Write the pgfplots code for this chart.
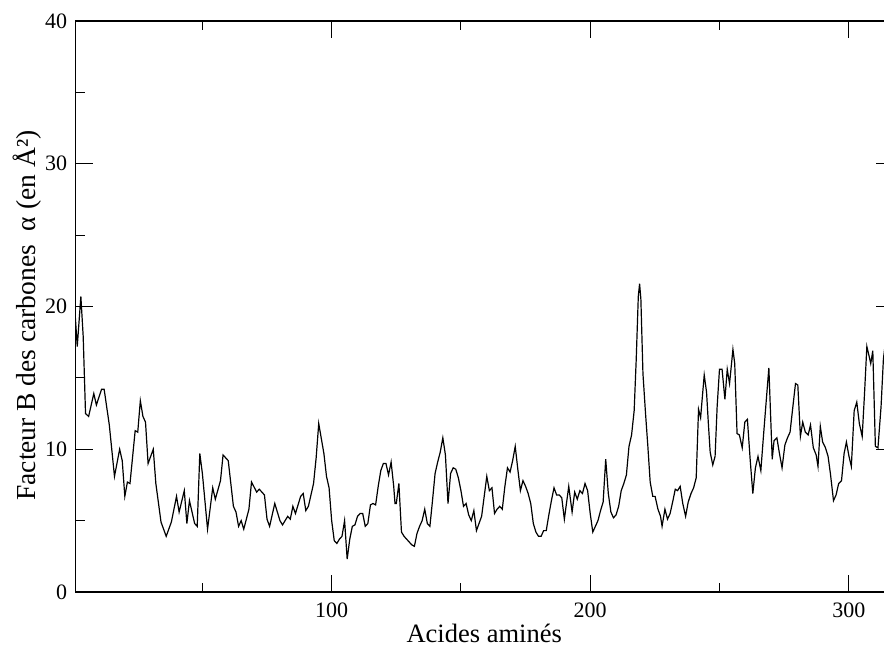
\documentclass[border=0pt]{standalone}
\usepackage{fontspec}
\setmainfont{Liberation Serif}
\usepackage{pgfplots}
\pgfplotsset{compat=1.18}
\begin{document}
\fontsize{22pt}{26pt}\selectfont
\begin{tikzpicture}
\begin{axis}[
  name=ax, at={(0,0)}, anchor=south west,
  scale only axis, width=817pt, height=571pt,
  xmin=1, xmax=317, ymin=0, ymax=40,
  xtick={100,200,300}, minor xtick={50,150,250},
  ytick={0,10,20,30,40}, minor ytick={5,15,25,35},
  tick align=inside,
  major tick length=17pt, minor tick length=9pt,
  axis line style={line width=1.1pt, black},
  every tick/.append style={line width=1.1pt, black},
  /pgf/number format/assume math mode=true,
  tick label style={font=\fontsize{22pt}{26pt}\selectfont},
  yticklabel style={xshift=-1pt},
  xticklabel style={yshift=-3pt},
  xlabel={Acides aminés},
  ylabel={Facteur B des carbones\ \ α (en Å²)},
  xlabel style={font=\fontsize{26.5pt}{30pt}\selectfont, at={(axis description cs:0.5,0)}, anchor=center, yshift=-41pt},
  ylabel style={font=\fontsize{27.5pt}{31pt}\selectfont, at={(axis description cs:-0.0596,0.484)}, anchor=center, rotate=0},
]
\addplot[black, line width=1.2pt] coordinates {
(0.8,19.4) (1.6,17.2) (3.0,20.7) (3.9,17.9) (4.8,12.5) (6.0,12.3) (8.0,13.9) (9.0,13.1)
(11.0,14.2) (12.0,14.2) (14.0,11.7) (16.0,8.1) (18.0,10.0) (19.0,9.2) (20.0,6.7) (21.0,7.7)
(22.0,7.6) (24.0,11.3) (25.0,11.2) (26.0,13.4) (27.0,12.3) (28.0,11.9) (29.0,9.0) (31.0,10.0)
(32.0,7.6) (34.0,4.9) (36.0,3.9) (38.0,4.9) (40.0,6.7) (41.0,5.6) (43.0,7.1) (44.0,4.8)
(45.0,6.4) (47.0,4.8) (48.0,4.6) (49.0,9.7) (50.0,8.3) (52.0,4.4) (54.0,7.3) (55.0,6.5)
(57.0,7.8) (58.0,9.6) (60.0,9.2) (62.0,6.0) (63.0,5.6) (64.0,4.6) (65.0,5.0) (66.0,4.4)
(68.0,5.8) (69.0,7.7) (71.0,7.0) (72.0,7.2) (74.0,6.8) (75.0,5.1) (76.0,4.6) (78.0,6.2)
(80.0,5.0) (81.0,4.7) (83.0,5.3) (84.0,5.1) (85.0,6.0) (86.0,5.5) (88.0,6.7) (89.0,6.9)
(90.0,5.7) (91.0,6.0) (93.0,7.6) (94.0,9.4) (95.0,11.8) (97.0,9.7) (98.0,8.1) (99.0,7.3)
(100.0,5.0) (101.0,3.6) (102.0,3.4) (103.0,3.7) (104.0,3.9) (105.0,5.0) (106.0,2.3) (107.0,3.7)
(108.0,4.6) (109.0,4.7) (110.0,5.3) (111.0,5.5) (112.0,5.5) (113.0,4.6) (114.0,4.8) (115.0,6.1)
(116.0,6.2) (117.0,6.1) (118.0,7.4) (119.0,8.5) (120.0,9.0) (121.0,9.0) (122.0,8.2) (123.0,9.1)
(124.0,7.4) (124.5,6.2) (125.0,6.2) (126.0,7.6) (127.0,4.2) (128.0,3.9) (129.0,3.7) (130.0,3.5)
(131.0,3.3) (132.0,3.2) (133.0,4.1) (134.0,4.6) (135.0,5.0) (136.0,5.8) (137.0,4.8) (138.0,4.6)
(139.0,6.4) (140.0,8.3) (141.0,9.1) (142.0,9.8) (143.0,10.8) (144.0,9.6) (145.0,6.2) (146.0,8.3)
(147.0,8.7) (148.0,8.6) (149.0,8.0) (150.0,7.1) (151.0,6.0) (152.0,6.2) (153.0,5.4) (154.0,5.0)
(155.0,5.7) (156.0,4.3) (157.0,4.8) (158.0,5.3) (159.0,6.7) (160.0,8.1) (161.0,7.1) (162.0,7.3)
(163.0,5.5) (164.0,5.8) (165.0,6.0) (166.0,5.8) (167.0,7.4) (168.0,8.7) (169.0,8.4) (170.0,9.2)
(171.0,10.2) (172.0,8.6) (173.0,7.1) (174.0,7.8) (175.0,7.4) (176.0,6.9) (177.0,6.2) (178.0,4.8)
(179.0,4.2) (180.0,3.9) (181.0,3.9) (182.0,4.3) (183.0,4.3) (184.0,5.4) (185.0,6.4) (186.0,7.3)
(187.0,6.8) (188.0,6.8) (189.0,6.6) (190.0,5.1) (191.7,7.4) (193.0,5.6) (194.0,7.0) (195.0,6.5)
(196.0,7.1) (197.0,6.9) (198.0,7.6) (199.0,7.1) (200.0,5.5) (201.0,4.2) (202.0,4.6) (203.0,5.0)
(204.0,5.7) (205.0,6.3) (206.0,9.3) (207.0,6.9) (208.0,5.6) (209.0,5.2) (210.0,5.4) (211.0,6.0)
(212.0,7.1) (213.0,7.6) (214.0,8.2) (215.0,10.2) (216.0,11.0) (217.0,12.7) (217.8,16.3) (218.6,20.7)
(219.1,21.6) (219.6,20.5) (220.4,15.3) (221.4,12.5) (222.3,10.2) (223.2,7.7) (224.2,6.7) (225.1,6.7)
(226.2,5.8) (227.2,5.3) (227.8,4.6) (228.9,5.8) (229.9,5.1) (230.9,5.5) (232.0,6.4) (232.9,7.2)
(233.8,7.1) (234.8,7.4) (235.8,6.2) (236.9,5.3) (237.9,6.3) (239.0,6.9) (240.0,7.3) (241.0,8.0)
(241.9,12.8) (242.7,12.2) (243.3,13.5) (244.1,15.2) (245.0,14.0) (245.7,11.8) (246.4,9.8) (247.4,8.9)
(248.3,9.5) (249.1,13.0) (250.0,15.6) (251.0,15.6) (252.1,13.5) (253.0,15.6) (253.9,14.6) (255.2,17.0)
(255.9,16.0) (256.8,11.1) (257.7,11.0) (258.8,10.1) (259.8,11.9) (260.8,12.1) (261.9,9.2) (262.9,6.9)
(263.9,8.7) (264.9,9.5) (266.0,8.5) (267.0,10.9) (268.0,13.2) (269.1,15.7) (270.4,9.3) (271.1,10.6)
(272.2,10.8) (273.2,9.7) (274.2,8.7) (275.3,10.3) (276.3,10.8) (277.3,11.2) (278.4,13.0) (279.4,14.6)
(280.3,14.5) (281.3,10.9) (282.2,11.9) (283.2,11.2) (284.3,11.0) (285.2,11.7) (286.3,10.1) (287.4,9.6)
(288.1,8.8) (289.0,11.6) (289.9,10.5) (291.0,10.1) (292.0,9.5) (292.9,8.3) (294.1,6.4) (295.1,6.8)
(296.1,7.6) (297.2,7.8) (298.2,9.7) (299.1,10.5) (300.1,9.5) (301.0,8.8) (302.1,12.7) (303.1,13.3)
(304.1,11.8) (305.2,10.9) (306.1,13.9) (307.0,17.2) (307.9,16.5) (308.5,16.0) (309.3,16.9) (310.3,10.2)
(311.3,10.1) (312.5,13.0) (313.4,16.3) (314.5,18.0)
};
\end{axis}
\pgfresetboundingbox
\path[use as bounding box] ([shift={(-75.7pt,-57pt)}]ax.south west) rectangle ([shift={(808.3pt,21pt)}]ax.north west);
\end{tikzpicture}
\end{document}
